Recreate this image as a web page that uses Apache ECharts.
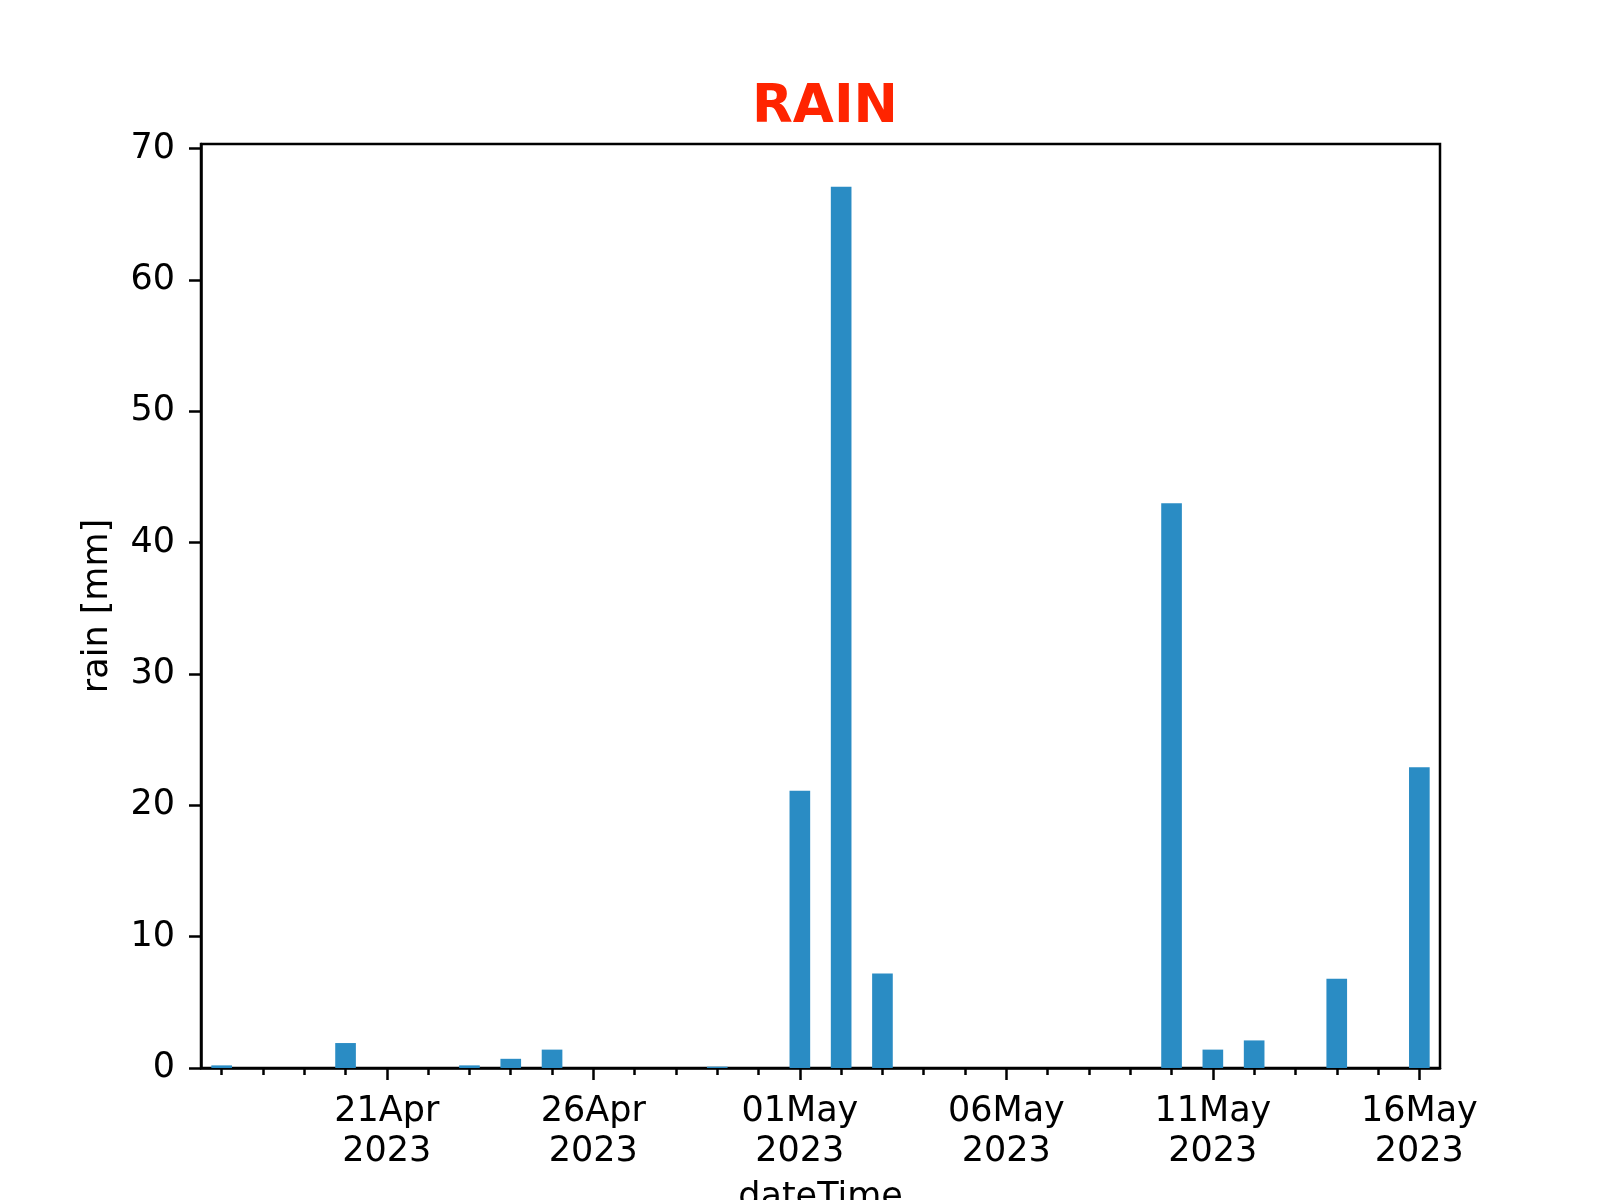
<!DOCTYPE html>
<html>
<head>
<meta charset="utf-8">
<script src="https://cdn.jsdelivr.net/npm/echarts@6/dist/echarts.min.js"></script>
<style>html,body{margin:0;padding:0;background:#fff}#c{width:1600px;height:1200px}</style>
</head>
<body>
<div id="c"></div>
<script>
const dates = ['17Apr','18Apr','19Apr','20Apr','21Apr','22Apr','23Apr','24Apr','25Apr','26Apr',
  '27Apr','28Apr','29Apr','30Apr','01May','02May','03May','04May','05May','06May',
  '07May','08May','09May','10May','11May','12May','13May','14May','15May','16May'];
const year = '2023';
const rain = [0.2,0,0,1.9,0,0,0.2,0.7,1.4,0,
  0,0,0.1,0,21.1,67.1,7.2,0,0,0,
  0,0,0,43.0,1.4,2.1,0,6.8,0,22.9];
const majorLabels = ['21Apr','26Apr','01May','06May','11May','16May'];
const yTicks = [0,10,20,30,40,50,60,70];

const font = 'DejaVu Sans';
const chart = echarts.init(document.getElementById('c'));
const isMajor = (i, v) => majorLabels.indexOf(v) >= 0;
chart.setOption({
  animation: false,
  backgroundColor: '#fff',
  title: {
    text: 'RAIN', left: 820, top: 77, textAlign: 'center',
    textStyle: {fontFamily: font, fontSize: 53, fontWeight: 'bold', color: '#ff2400'}
  },
  grid: {left: 201, right: 160, top: 144, bottom: 132, outerBoundsMode: 'none', containLabel: false,
    show: true, borderColor: '#000', borderWidth: 2.5, backgroundColor: 'transparent'},
  xAxis: [{
    type: 'category', data: dates, position: 'bottom', boundaryGap: true,
    axisLine: {show: false},
    axisTick: {show: true, interval: 0, alignWithLabel: true, length: 7, lineStyle: {color: '#000', width: 2.5}},
    axisLabel: {show: false},
    splitLine: {show: false}
  }, {
    type: 'category', data: dates, position: 'bottom', boundaryGap: true,
    axisLine: {show: true, lineStyle: {color: '#000', width: 2.5}},
    axisTick: {show: true, interval: isMajor, alignWithLabel: true, length: 12, lineStyle: {color: '#000', width: 2.5}},
    axisLabel: {show: true, interval: isMajor, margin: 24, fontFamily: font, fontSize: 35, color: '#000', lineHeight: 40,
      formatter: v => v + '\n' + year},
    name: 'dateTime', nameLocation: 'middle', nameGap: 112,
    nameTextStyle: {fontFamily: font, fontSize: 35, color: '#000'},
    splitLine: {show: false}
  }],
  yAxis: {
    type: 'value', min: 0, max: 70.35, interval: 10,
    axisLine: {show: true, lineStyle: {color: '#000', width: 2.5}},
    axisTick: {show: true, length: 12, lineStyle: {color: '#000', width: 2.5}, customValues: yTicks},
    axisLabel: {fontFamily: font, fontSize: 35, color: '#000', margin: 26, customValues: yTicks},
    splitLine: {show: false},
    name: 'rain [mm]', nameLocation: 'middle', nameGap: 86,
    nameTextStyle: {fontFamily: font, fontSize: 35, color: '#000'}
  },
  series: [{
    type: 'bar', xAxisIndex: 0, data: rain, barWidth: '50%',
    itemStyle: {color: '#2a8cc4'}
  }]
});
</script>
</body>
</html>
